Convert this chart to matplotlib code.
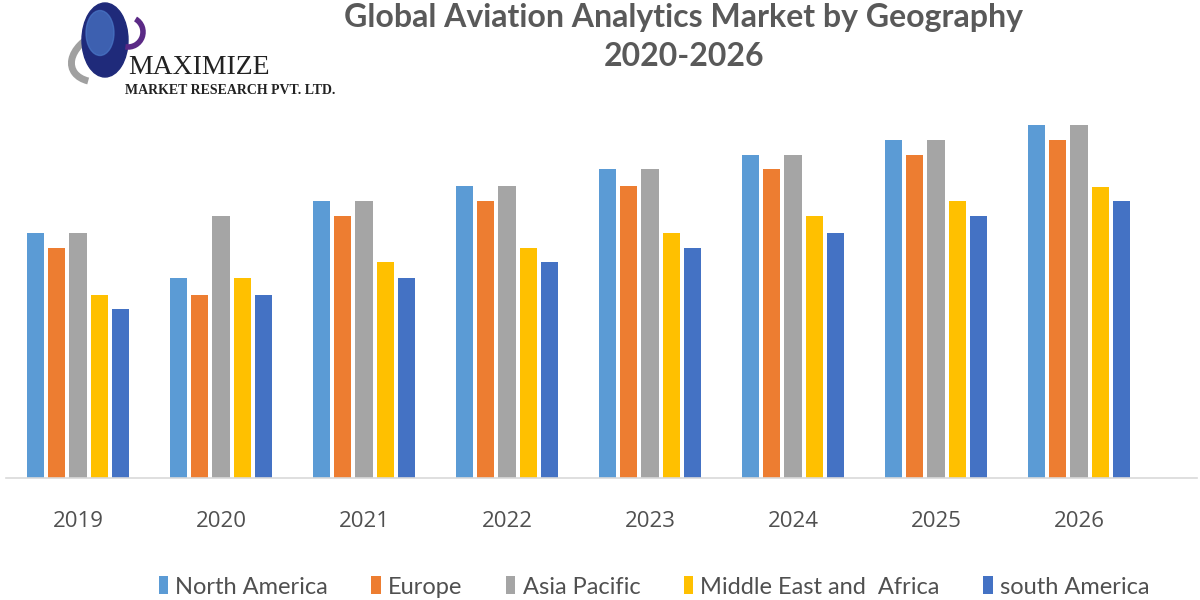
import numpy as np
import matplotlib.pyplot as plt
from matplotlib.patches import Ellipse, Arc

years = ["2019", "2020", "2021", "2022", "2023", "2024", "2025", "2026"]
regions = ["North America", "Europe", "Asia Pacific", "Middle East and  Africa", "south America"]
colors = ["#5B9BD5", "#ED7D31", "#A5A5A5", "#FFC000", "#4472C4"]

# bar heights (no value axis shown, arbitrary units)
north_america = [245, 200, 277, 292, 309, 323, 338, 353]
europe = [230, 183, 262, 277, 292, 309, 323, 338]
asia_pacific = [245, 262, 277, 292, 309, 323, 338, 353]
mea = [183, 200, 216, 230, 245, 262, 277, 291]
south_america = [169, 183, 200, 216, 230, 245, 262, 277]
series = [north_america, europe, asia_pacific, mea, south_america]

W, H = 1200, 600
fig = plt.figure(figsize=(12, 6), dpi=100)

# plot area: baseline at y=478px, group centres at 78 + 143*i px
left_px, right_px, base_px, top_px = 6, 1197, 478, 110
ax = fig.add_axes([left_px / W, 1 - base_px / H, (right_px - left_px) / W, (base_px - top_px) / H])

x = np.arange(len(years))
bw = 0.119
pitch = 0.148
for k, (vals, col, name) in enumerate(zip(series, colors, regions)):
    ax.bar(x + (k - 2) * pitch, vals, width=bw, color=col, label=name)

ax.set_xlim((left_px - 78) / 143, (right_px - 78) / 143)
ax.set_ylim(0, base_px - top_px)
ax.set_yticks([])
ax.set_xticks(x)
ax.set_xticklabels(years, fontsize=16, color="#505050", family=["Open Sans", "DejaVu Sans"])
ax.tick_params(axis="x", length=0, pad=24)
for s in ["top", "left", "right"]:
    ax.spines[s].set_visible(False)
ax.spines["bottom"].set_color("#D9D9D9")
ax.spines["bottom"].set_linewidth(1.2)

# title
title_font = ["Lato", "DejaVu Sans"]
fig.text(684 / W, 1 - 17 / H, "Global Aviation Analytics Market by Geography", ha="center", va="center",
         fontsize=23, fontweight="bold", color="#595959", family=title_font)
fig.text(684 / W, 1 - 57 / H, "2020-2026", ha="center", va="center",
         fontsize=23, fontweight="bold", color="#595959", family=title_font)

# legend
handles, labels = ax.get_legend_handles_labels()
leg = fig.legend(handles, labels, loc="center", bbox_to_anchor=(654 / W, 1 - 587 / H), ncol=5,
                 frameon=False, handlelength=0.4, handleheight=0.8, handletextpad=0.3,
                 columnspacing=1.85, prop={"family": ["Lato", "DejaVu Sans"], "size": 17})
for t in leg.get_texts():
    t.set_color("#505050")

# logo
la = fig.add_axes([0, 0, 1, 1], zorder=5)
la.set_xlim(0, W)
la.set_ylim(H, 0)
la.axis("off")
la.add_patch(Arc((110, 55), 80, 50, angle=-20, theta1=150, theta2=260, color="#A0A0A0", lw=5))
la.add_patch(Ellipse((105, 40), 46, 74, color="#1F2A7A"))
la.add_patch(Ellipse((100, 33), 28, 45, color="#4A78C8", alpha=0.7))
la.add_patch(Arc((128, 32), 30, 30, theta1=-60, theta2=100, color="#5B2A86", lw=4))
la.text(128, 68, "MAXIMIZE", fontsize=20, family=["Liberation Serif", "DejaVu Serif"], color="#222222",
        va="center", ha="left")
la.text(125, 91, "MARKET RESEARCH PVT. LTD.", fontsize=10, family=["Liberation Serif", "DejaVu Serif"],
        color="#222222", va="center", ha="left", fontweight="bold")

fig.savefig("out.png", dpi=100)
